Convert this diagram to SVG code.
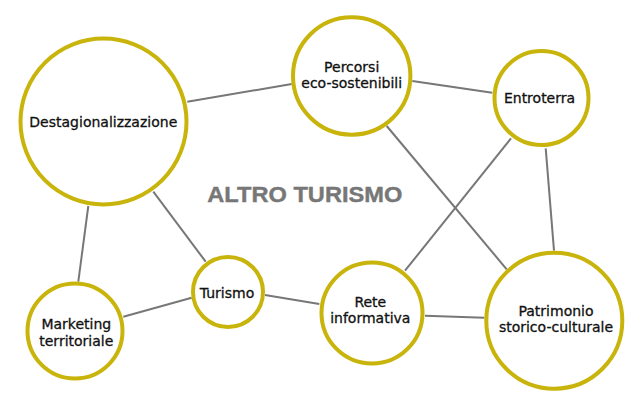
<svg xmlns="http://www.w3.org/2000/svg" width="640" height="400" viewBox="0 0 640 400">
<style>
.node circle{fill:#fff;stroke:#c8b40a;stroke-width:4}
.node text{font-family:"DejaVu Sans",sans-serif;font-size:14px;fill:#111;stroke:#111;stroke-width:0.3;text-anchor:middle}
#connectors line{stroke:#777;stroke-width:2}
.title{font-family:"Liberation Sans",Arial,sans-serif;font-weight:bold;font-size:22px;fill:#777;stroke:#777;stroke-width:0.4}
</style>
<rect width="640" height="400" fill="#fff"/>
<g id="connectors">
<line x1="187.3" y1="101.7" x2="291.7" y2="84"/>
<line x1="412.3" y1="81" x2="492.3" y2="92.7"/>
<line x1="386.7" y1="126" x2="506.7" y2="269.3"/>
<line x1="511" y1="138.3" x2="405" y2="270.7"/>
<line x1="545.7" y1="148.3" x2="554" y2="250.7"/>
<line x1="88.3" y1="206" x2="78.3" y2="281.7"/>
<line x1="153.3" y1="191.7" x2="205.7" y2="261.7"/>
<line x1="123.3" y1="316.7" x2="191.7" y2="297.7"/>
<line x1="265" y1="295" x2="319.3" y2="304"/>
<line x1="425" y1="315.7" x2="484.3" y2="317.7"/>
</g>
<text class="title" x="207.3" y="202.3" textLength="195" lengthAdjust="spacingAndGlyphs">ALTRO TURISMO</text>
<g id="destagionalizzazione" class="node">
<circle cx="103.5" cy="121.5" r="83"/>
<text x="103.3" y="127.3">Destagionalizzazione</text>
</g>
<g id="percorsi" class="node">
<circle cx="351.7" cy="76" r="58.7"/>
<text x="351.7" y="71.7">Percorsi</text>
<text x="351.7" y="88.3">eco-sostenibili</text>
</g>
<g id="entroterra" class="node">
<circle cx="541.5" cy="98" r="47"/>
<text x="539.5" y="102.7">Entroterra</text>
</g>
<g id="marketing" class="node">
<circle cx="75" cy="331" r="47.5"/>
<text x="76.3" y="329.3">Marketing</text>
<text x="76.3" y="345.7">territoriale</text>
</g>
<g id="turismo" class="node">
<circle cx="228" cy="292" r="35"/>
<text x="227" y="298.3">Turismo</text>
</g>
<g id="rete" class="node">
<circle cx="372" cy="313" r="50.5"/>
<text x="370.3" y="306.7">Rete</text>
<text x="370.3" y="323.3">informativa</text>
</g>
<g id="patrimonio" class="node">
<circle cx="554.3" cy="320.7" r="68"/>
<text x="556" y="315.7">Patrimonio</text>
<text x="556" y="332.3">storico-culturale</text>
</g>
</svg>
